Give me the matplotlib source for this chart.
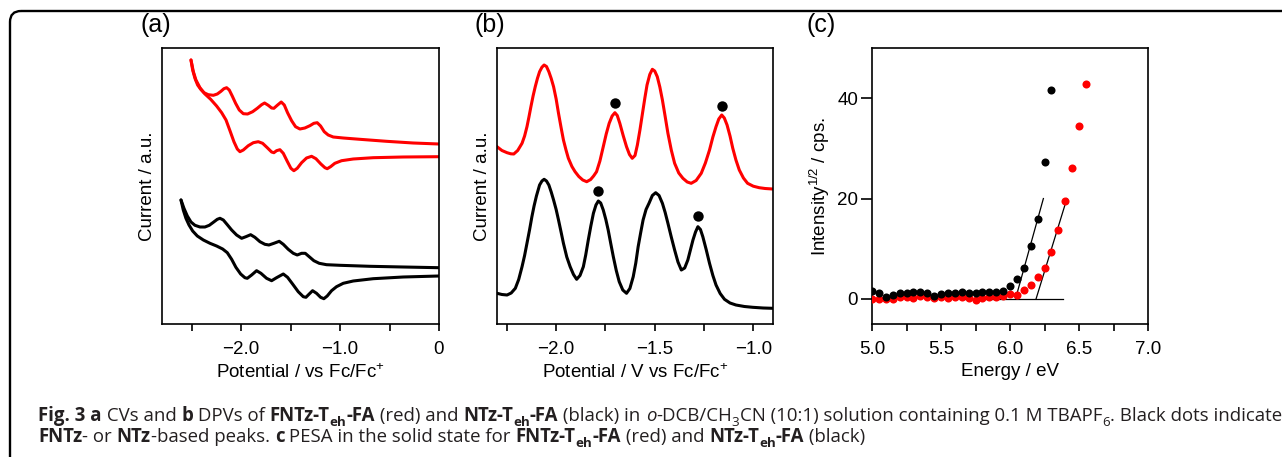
import matplotlib
matplotlib.use('Agg')
import matplotlib.pyplot as plt
import matplotlib.patches as mpatches
from matplotlib.ticker import MultipleLocator, FormatStrFormatter, FuncFormatter
import numpy as np

plt.rcParams['font.family'] = ['Liberation Sans', 'DejaVu Sans']
plt.rcParams['mathtext.fontset'] = 'custom'
plt.rcParams['mathtext.rm'] = 'Liberation Sans'
plt.rcParams['mathtext.it'] = 'Liberation Sans:italic'
plt.rcParams['mathtext.bf'] = 'Liberation Sans:bold'

RED = '#FF0000'
BLK = '#000000'
CAP = '#231F20'
W, H = 1282, 457

# ── (a) CV: potential (V vs Fc/Fc+) / current (a.u.) ────────────────────
CV_RED_UP_E = [-2.507, -2.490, -2.467, -2.440, -2.409, -2.376, -2.332, -2.281,
               -2.241, -2.204, -2.174, -2.147, -2.120, -2.090, -2.056, -2.019,
               -1.978, -1.935, -1.884, -1.837, -1.793, -1.763, -1.726, -1.692,
               -1.669, -1.635, -1.595, -1.564, -1.531, -1.490, -1.450, -1.406,
               -1.356, -1.305, -1.265, -1.231, -1.197, -1.160, -1.120, -1.069,
               -0.968, -0.800, -0.531, -0.261, 0.0]
CV_RED_UP_I = [264, 254, 245.7, 239, 234.7, 231.3, 229.3, 228.7,
               230, 232.7, 235.3, 236.3, 234, 228, 220.7, 214,
               210.3, 210, 212.3, 215.7, 219.3, 221, 218.7, 216,
               215.7, 218.7, 222, 219, 211.3, 203.3, 197.3, 195,
               196, 198.3, 200.7, 201.3, 198, 192.3, 189, 187,
               186, 184.7, 182.7, 181, 180]
CV_RED_DN_E = [-2.507, -2.483, -2.457, -2.416, -2.366, -2.308, -2.248, -2.197,
               -2.153, -2.113, -2.073, -2.039, -2.012, -1.978, -1.928, -1.877,
               -1.827, -1.783, -1.736, -1.692, -1.669, -1.642, -1.608, -1.574,
               -1.534, -1.497, -1.467, -1.433, -1.389, -1.339, -1.288, -1.244,
               -1.194, -1.153, -1.130, -1.096, -1.053, -0.985, -0.867, -0.665,
               -0.362, 0.0]
CV_RED_DN_I = [264, 252.3, 244, 236.3, 230, 224.7, 218, 211.3,
               204, 193.3, 182.3, 175, 172.3, 174, 178.3, 181.3,
               182.3, 180.7, 176.3, 172, 171.3, 173.3, 174.3, 170.7,
               162.7, 155.7, 153.3, 155.7, 161.3, 166, 167.7, 165.3,
               160, 156.3, 155.3, 157.3, 160.7, 163.3, 165, 166.3,
               167, 167.3]
CV_BLK_UP_E = [-2.608, -2.578, -2.544, -2.507, -2.467, -2.416, -2.366, -2.322,
               -2.281, -2.241, -2.214, -2.180, -2.140, -2.096, -2.046, -1.995,
               -1.952, -1.904, -1.861, -1.810, -1.760, -1.719, -1.669, -1.615,
               -1.574, -1.524, -1.473, -1.433, -1.389, -1.352, -1.312, -1.265,
               -1.211, -1.137, -1.002, -0.699, -0.362, 0.0]
CV_BLK_UP_I = [124, 115.7, 108, 102, 98.7, 97, 97, 98.7,
               101.7, 104.7, 105.7, 104, 99.3, 94, 89, 85.7,
               87.3, 89.3, 86.7, 82.3, 79.7, 79, 80.7, 82.7,
               79.7, 74.7, 70.7, 69, 70.7, 70.7, 67.3, 63.3,
               60.7, 59.3, 58.7, 57.7, 57, 56.3]
CV_BLK_DN_E = [-2.608, -2.585, -2.558, -2.527, -2.490, -2.443, -2.382, -2.315,
               -2.248, -2.187, -2.140, -2.096, -2.053, -2.005, -1.962, -1.938,
               -1.894, -1.844, -1.800, -1.743, -1.692, -1.642, -1.574, -1.531,
               -1.480, -1.423, -1.372, -1.345, -1.312, -1.278, -1.238, -1.197,
               -1.164, -1.130, -1.086, -1.036, -0.968, -0.867, -0.665, -0.362,
               0.0]
CV_BLK_DN_I = [124, 114, 105.7, 99, 93, 88, 84, 80.7,
               78, 75, 71.3, 64.7, 56.7, 50, 46.3, 45.7,
               49, 53.3, 50.7, 45.7, 43.3, 46.3, 50, 46.7,
               40, 32.3, 27.3, 26.7, 30, 33.3, 30.7, 26.7,
               25.3, 28, 33.3, 37.3, 40.7, 43, 45.3, 47,
               48]

# ── (b) DPV ─────────────────────────────────────────────────────────────
DPV_RED_E = [-2.300, -2.275, -2.249, -2.230, -2.215, -2.195, -2.173, -2.160,
             -2.148, -2.138, -2.128, -2.117, -2.106, -2.095, -2.084, -2.072,
             -2.061, -2.049, -2.037, -2.025, -2.013, -2.000, -1.988, -1.975,
             -1.963, -1.950, -1.938, -1.920, -1.904, -1.885, -1.865, -1.845,
             -1.825, -1.810, -1.795, -1.778, -1.761, -1.746, -1.731, -1.716,
             -1.702, -1.690, -1.677, -1.660, -1.643, -1.628, -1.614, -1.600,
             -1.588, -1.575, -1.562, -1.550, -1.539, -1.525, -1.512, -1.500,
             -1.487, -1.474, -1.461, -1.447, -1.433, -1.416, -1.399, -1.378,
             -1.357, -1.335, -1.315, -1.290, -1.264, -1.243, -1.222, -1.205,
             -1.189, -1.175, -1.160, -1.147, -1.133, -1.118, -1.104, -1.088,
             -1.071, -1.050, -1.029, -1.000, -0.970, -0.940, -0.902]
DPV_RED_I = [177.3, 173.5, 171.3, 170.2, 170, 173.5, 180.7, 188,
             197.3, 207, 217.3, 228, 237.3, 245.5, 252.3, 256.8,
             259, 257.5, 252.3, 245.5, 237.3, 225, 210.7, 196.5,
             184, 174, 165.7, 157.5, 152.3, 147.5, 144, 142.3,
             144.5, 148, 152.3, 163, 177.3, 190, 200.7, 208,
             211.3, 208.5, 200.7, 188.5, 177.3, 169.5, 165.7, 168.5,
             179, 194, 210.7, 226, 239, 249.5, 254.7, 253,
             247.3, 237, 224, 207.5, 190.7, 174, 160.7, 151,
             145.7, 142, 140.7, 143.5, 150.7, 161, 174, 187,
             197.3, 205, 209, 206, 199, 188, 175.7, 164,
             154, 146, 140.7, 137.8, 136.3, 135.5, 135]
DPV_BLK_E = [-2.300, -2.275, -2.249, -2.228, -2.207, -2.190, -2.173, -2.160,
             -2.148, -2.135, -2.123, -2.112, -2.100, -2.084, -2.072, -2.061,
             -2.049, -2.037, -2.025, -2.013, -2.000, -1.988, -1.975, -1.963,
             -1.946, -1.929, -1.912, -1.896, -1.879, -1.862, -1.850, -1.837,
             -1.824, -1.811, -1.798, -1.786, -1.774, -1.761, -1.748, -1.736,
             -1.723, -1.710, -1.695, -1.680, -1.662, -1.643, -1.626, -1.609,
             -1.596, -1.584, -1.571, -1.559, -1.544, -1.529, -1.512, -1.495,
             -1.478, -1.461, -1.447, -1.433, -1.416, -1.399, -1.382, -1.365,
             -1.348, -1.332, -1.319, -1.306, -1.293, -1.281, -1.268, -1.256,
             -1.239, -1.222, -1.205, -1.189, -1.168, -1.146, -1.118, -1.088,
             -1.045, -1.003, -0.950, -0.902]
DPV_BLK_I = [30.7, 29.5, 29, 31, 35.7, 44.5, 57.3, 68.5,
             80.7, 94, 107.3, 118, 128, 139, 143, 144.7,
             143, 139, 132, 124, 114.5, 104, 92, 80.7,
             67, 57.3, 49.5, 44.7, 48.5, 57.3, 69, 84,
             98, 110.7, 119, 123, 121, 114, 104.5, 94,
             80.5, 67.3, 53.5, 42.3, 34, 30.7, 35.5, 47.3,
             61, 77.3, 91.5, 104, 114.5, 120.7, 128.5, 131.3,
             128.5, 120.7, 111.5, 100.7, 87, 74, 62, 54,
             56, 64, 74, 84, 92, 97.3, 94.5, 87.3,
             74.5, 60.7, 48.5, 39, 30.5, 24.7, 21, 19,
             17.5, 16.7, 16, 15.7]
DOT_RED_E = [-1.702, -1.160]
DOT_RED_I = [220.7, 218]
DOT_BLK_E = [-1.790, -1.281]
DOT_BLK_I = [133.3, 108]

# ── (c) PESA ────────────────────────────────────────────────────────────
PESA_BLK_E = [5.00, 5.05, 5.10, 5.15, 5.20, 5.25, 5.30, 5.35, 5.40, 5.45,
              5.50, 5.55, 5.60, 5.65, 5.70, 5.75, 5.80, 5.85, 5.90, 5.95,
              6.00, 6.05, 6.10, 6.15, 6.20, 6.25, 6.30]
PESA_BLK_I = [1.6, 1.1, 0.3, 0.8, 1.1, 1.1, 1.3, 1.3, 1.1, 0.6,
              1.0, 1.1, 1.1, 1.3, 1.1, 1.1, 1.3, 1.3, 1.3, 1.6,
              2.5, 3.9, 6.1, 10.6, 16.0, 27.2, 41.7]
PESA_RED_E = [5.00, 5.05, 5.10, 5.15, 5.20, 5.25, 5.30, 5.35, 5.40, 5.45,
              5.50, 5.55, 5.60, 5.65, 5.70, 5.75, 5.80, 5.85, 5.90, 5.95,
              6.00, 6.05, 6.10, 6.15, 6.20, 6.25, 6.30, 6.35, 6.40, 6.45,
              6.50, 6.55]
PESA_RED_I = [0.0, 0.0, -0.1, 0.0, 0.3, 0.4, 0.2, 0.5, 0.4, 0.2,
              0.3, 0.2, 0.3, 0.3, 0.2, -0.2, 0.2, 0.4, 0.3, 0.5,
              1.0, 0.7, 1.7, 2.8, 4.4, 6.1, 9.3, 13.8, 19.5, 26.1,
              34.4, 42.8]
FIT_BLK = (6.10, 6.20)      # energy window of the onset fit
FIT_RED = (6.25, 6.40)
FIT_TOP = 20
BASELINE = (5.65, 6.385)

# ── caption ─────────────────────────────────────────────────────────────
LINE1 = [('Fig. 3 a', 'b'), (' CVs and ', 'r'), ('b', 'b'), (' DPVs of ', 'r'),
         ('FNTz-T', 'b'), ('eh', 'bs'), ('-FA', 'b'), (' (red) and ', 'r'),
         ('NTz-T', 'b'), ('eh', 'bs'), ('-FA', 'b'), (' (black) in ', 'r'),
         ('o', 'i'), ('-DCB/CH', 'r'), ('3', 's'),
         ('CN (10:1) solution containing 0.1 M TBAPF', 'r'), ('6', 's'),
         ('. Black dots indicate', 'r')]
LINE2 = [('FNTz', 'b'), ('- or ', 'r'), ('NTz', 'b'), ('-based peaks. ', 'r'),
         ('c', 'b'), (' PESA in the solid state for ', 'r'),
         ('FNTz-T', 'b'), ('eh', 'bs'), ('-FA', 'b'), (' (red) and ', 'r'),
         ('NTz-T', 'b'), ('eh', 'bs'), ('-FA', 'b'), (' (black)', 'r')]
CAP_FONT = ['Open Sans', 'DejaVu Sans']


def px_axes(fig, left, top, right, bottom):
    return fig.add_axes([left / W, 1 - bottom / H, (right - left) / W, (bottom - top) / H])


def minus_fmt(v, p):
    if abs(v) < 1e-9:
        return '0'
    return f'{v:.1f}'.replace('-', '\u2212')


def style(ax, noy=True):
    for s in ax.spines.values():
        s.set_linewidth(1.2)
    ax.tick_params(which='both', direction='out', width=1.2, labelsize=13.5, pad=7)
    ax.tick_params(which='major', length=5)
    ax.tick_params(which='minor', length=5)
    if noy:
        ax.set_yticks([])


def text_w(t, r):
    return t.get_window_extent(r).width


def rich_line(fig, x0, base, segs, size, r, draw=True):
    x = x0
    for s, kind in segs:
        sub = 's' in kind
        fs = size * 0.72 if sub else size
        dy = size * 0.28 * 100 / 72 if sub else 0
        fw = 'bold' if 'b' in kind else 'normal'
        st = 'italic' if 'i' in kind else 'normal'
        # measure with bars so leading/trailing spaces count
        probe = fig.text(0, 0, '|' + s + '|', fontsize=fs, family=CAP_FONT,
                         fontweight=fw, style=st)
        bars = fig.text(0, 0, '||', fontsize=fs, family=CAP_FONT, fontweight=fw)
        w = text_w(probe, r) - text_w(bars, r)
        probe.remove()
        bars.remove()
        if draw:
            fig.text(x / W, 1 - (base + dy) / H, s, fontsize=fs, family=CAP_FONT,
                     fontweight=fw, style=st, color=CAP, va='baseline', ha='left')
        x += w
    return x - x0


def main():
    fig = plt.figure(figsize=(W / 100, H / 100), dpi=100)
    r = fig.canvas.get_renderer()

    # rounded frame, top + left edges only visible
    bg = fig.add_axes([0, 0, 1, 1], zorder=-1)
    bg.set_xlim(0, W)
    bg.set_ylim(H, 0)
    bg.axis('off')
    bg.add_patch(mpatches.FancyBboxPatch((10, 11), W + 40, H + 20,
                                         boxstyle='round,pad=0,rounding_size=11',
                                         fc='none', ec='black', lw=1.7))

    # (a)
    ax = px_axes(fig, 162, 48, 439, 324)
    for e, i, c in [(CV_RED_UP_E, CV_RED_UP_I, RED), (CV_RED_DN_E, CV_RED_DN_I, RED),
                    (CV_BLK_UP_E, CV_BLK_UP_I, BLK), (CV_BLK_DN_E, CV_BLK_DN_I, BLK)]:
        ax.plot(e, i, color=c, lw=2.2, solid_joinstyle='round', solid_capstyle='round')
    ax.set_xlim(-2.8, 0)
    ax.set_ylim(0, 276)
    ax.xaxis.set_major_locator(MultipleLocator(1.0))
    ax.xaxis.set_minor_locator(MultipleLocator(0.5))
    ax.xaxis.set_major_formatter(FuncFormatter(minus_fmt))
    style(ax)
    ax.set_ylabel('Current / a.u.', fontsize=13.5, labelpad=4)
    ax.set_xlabel('Potential / vs Fc/Fc$^{+}$', fontsize=13.5, labelpad=4)

    # (b)
    ax = px_axes(fig, 497, 48, 773, 324)
    ax.plot(DPV_RED_E, DPV_RED_I, color=RED, lw=2.2, solid_joinstyle='round')
    ax.plot(DPV_BLK_E, DPV_BLK_I, color=BLK, lw=2.2, solid_joinstyle='round')
    ax.plot(DOT_RED_E, DOT_RED_I, 'o', color=BLK, ms=7.5, mew=0)
    ax.plot(DOT_BLK_E, DOT_BLK_I, 'o', color=BLK, ms=7.5, mew=0)
    ax.set_xlim(-2.3, -0.9)
    ax.set_ylim(0, 276)
    ax.xaxis.set_major_locator(MultipleLocator(0.5))
    ax.xaxis.set_minor_locator(MultipleLocator(0.25))
    ax.xaxis.set_major_formatter(FuncFormatter(minus_fmt))
    style(ax)
    ax.set_ylabel('Current / a.u.', fontsize=13.5, labelpad=4)
    ax.set_xlabel('Potential / V vs Fc/Fc$^{+}$', fontsize=13.5, labelpad=4)

    # (c)
    ax = px_axes(fig, 872, 48, 1148, 324)
    ax.plot(PESA_RED_E, PESA_RED_I, 'o', color=RED, ms=5.8, mew=0, zorder=3)
    ax.plot(PESA_BLK_E, PESA_BLK_I, 'o', color=BLK, ms=5.8, mew=0, zorder=4)
    ax.plot(BASELINE, [0, 0], color=BLK, lw=0.9, zorder=2)
    for (e, i, win) in [(PESA_BLK_E, PESA_BLK_I, FIT_BLK), (PESA_RED_E, PESA_RED_I, FIT_RED)]:
        e = np.asarray(e)
        i = np.asarray(i)
        m = (e >= win[0] - 1e-6) & (e <= win[1] + 1e-6)
        k, b = np.polyfit(e[m], i[m], 1)
        ax.plot([-b / k, (FIT_TOP - b) / k], [0, FIT_TOP], color=BLK, lw=0.9, zorder=2)
    ax.set_xlim(5.0, 7.0)
    ax.set_ylim(-5, 50)
    ax.xaxis.set_major_locator(MultipleLocator(0.5))
    ax.xaxis.set_minor_locator(MultipleLocator(0.25))
    ax.yaxis.set_major_locator(MultipleLocator(20))
    ax.xaxis.set_major_formatter(FormatStrFormatter('%.1f'))
    style(ax, noy=False)
    ax.tick_params(axis='y', which='major', length=8, pad=2)
    ax.set_ylabel('Intensity$^{1/2}$ / cps.', fontsize=13.5, labelpad=4)
    ax.set_xlabel('Energy / eV', fontsize=13.5, labelpad=4)

    # panel letters
    for x, lab in [(140, '(a)'), (475, '(b)'), (807, '(c)')]:
        fig.text(x / W, 1 - 25 / H, lab, fontsize=18, va='center', ha='left')

    # caption, sized so the first line spans the frame width
    s0 = 12.0
    w0 = rich_line(fig, 38, 421, LINE1, s0, r, draw=False)
    size = s0 * (1277 - 38) / w0
    rich_line(fig, 38, 421, LINE1, size, r)
    rich_line(fig, 38, 442, LINE2, size, r)

    fig.savefig('out.png', dpi=100)
    plt.close(fig)


if __name__ == '__main__':
    main()
